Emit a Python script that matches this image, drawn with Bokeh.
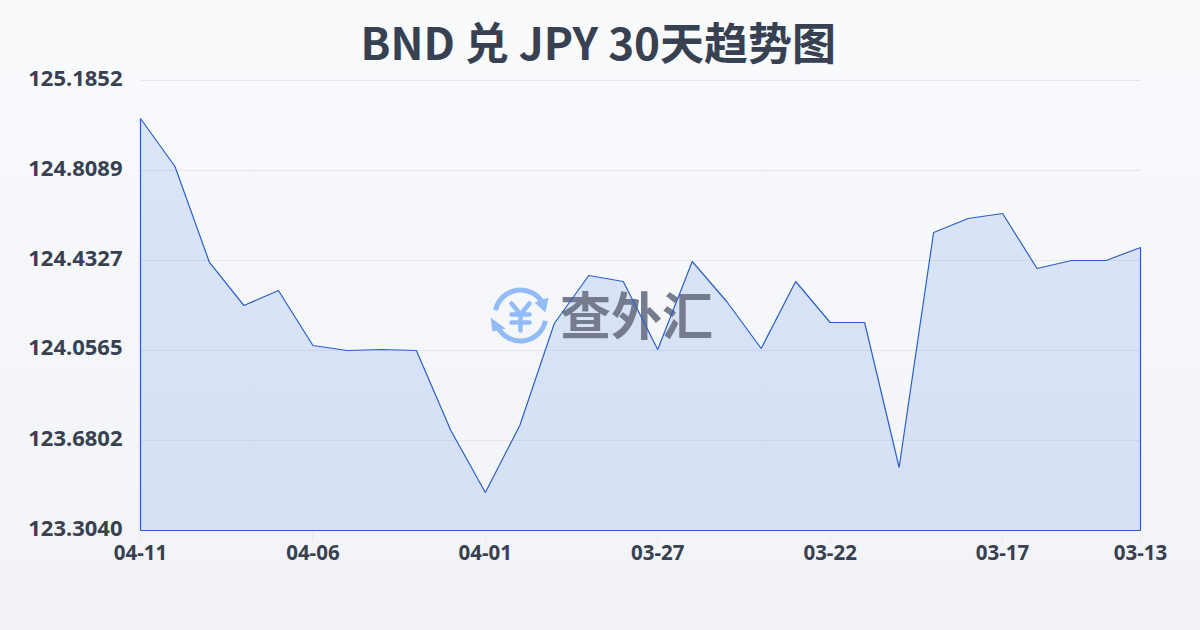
import math
from bokeh.plotting import figure
from bokeh.embed import file_html
from bokeh.resources import INLINE
from bokeh.models import Range1d, FixedTicker, NumeralTickFormatter
from bokeh.core.properties import value

dates = ["04-11","04-10","04-09","04-08","04-07","04-06","04-05","04-04","04-03","04-02",
         "04-01","03-31","03-30","03-29","03-28","03-27","03-26","03-25","03-24","03-23",
         "03-22","03-21","03-20","03-19","03-18","03-17","03-16","03-15","03-14","03-13"]
rates = [125.0263,124.8257,124.4244,124.2446,124.3073,124.0774,124.0565,124.0607,124.0565,123.7221,
         123.4629,123.7430,124.1694,124.3700,124.3449,124.0607,124.4285,124.2613,124.0648,124.3449,
         124.1735,124.1735,123.5674,124.5498,124.6083,124.6292,124.3993,124.4327,124.4327,124.4871]
y_ticks = [123.3040,123.6802,124.0565,124.4327,124.8089,125.1852]
x_tick_idx = [0,5,10,15,20,25,29]
title = "BND 兑 JPY 30天趋势图"
watermark = "查外汇"

CJK = "Noto Sans CJK SC"
LATIN = "Noto Sans"
INK = "#374151"
LINE = "#2b60c8"
ICON = "#93bbf6"
GRID = "#e5e7eb"

idx = list(range(len(rates)))
# the frame is slightly larger than the plotted area so the outline is not clipped
kx = (len(rates)-1) / 1000
ky = (y_ticks[-1] - y_ticks[0]) / 450
PAD = 3
p = figure(width=1200, height=630, output_backend="svg", toolbar_location=None,
           x_range=Range1d(-PAD*kx, len(rates)-1 + PAD*kx),
           y_range=Range1d(y_ticks[0] - PAD*ky, y_ticks[-1] + PAD*ky),
           min_border_left=140-PAD, min_border_right=60-PAD, min_border_top=80-PAD, min_border_bottom=100-PAD,
           background_fill_alpha=0, border_fill_alpha=0, outline_line_alpha=0)
# overlay coordinate system in page pixels, for the watermark only
p.extra_x_ranges["px"] = Range1d(140-PAD, 1140+PAD)
p.extra_y_ranges["px"] = Range1d(530+PAD, 80-PAD)
# y-axis labels sit a little above their gridlines
LIFT = 2.5
p.extra_y_ranges["labels"] = Range1d(y_ticks[0] - (PAD+LIFT)*ky, y_ticks[-1] + (PAD-LIFT)*ky)

p.title.text = title
p.title.align = "left"
p.title.offset = 360 - (140-PAD)
p.title.text_font = CJK
p.title.text_font_size = "44px"
p.title.text_font_style = "bold"
p.title.text_color = INK
p.title.standoff = 9

p.grid.visible = False
p.segment([idx[0]]*len(y_ticks), y_ticks, [idx[-1]]*len(y_ticks), y_ticks,
          line_color=GRID, line_width=1)

p.yaxis.y_range_name = "labels"
p.yaxis.ticker = FixedTicker(ticks=y_ticks)
p.yaxis.formatter = NumeralTickFormatter(format="0.0000")
p.yaxis.axis_line_color = None
p.yaxis.major_tick_line_color = None
p.yaxis.minor_tick_line_color = None
p.yaxis.major_label_text_font = LATIN
p.yaxis.major_label_text_font_size = "22px"
p.yaxis.major_label_text_font_style = "bold"
p.yaxis.major_label_text_color = INK
p.yaxis.major_label_standoff = 9

p.xaxis.ticker = FixedTicker(ticks=x_tick_idx)
p.xaxis.major_label_overrides = {i: dates[i] for i in x_tick_idx}
p.xaxis.axis_line_color = None
p.xaxis.major_tick_line_color = GRID
p.xaxis.major_tick_in = 0
p.xaxis.major_tick_out = 8
p.xaxis.minor_tick_line_color = None
p.xaxis.major_label_text_font = LATIN
p.xaxis.major_label_text_font_size = "20.5px"
p.xaxis.major_label_text_font_style = "bold"
p.xaxis.major_label_text_color = INK
p.xaxis.major_label_standoff = 3

base = y_ticks[0]
p.patch(idx + [idx[-1], idx[0]], rates + [base, base],
        fill_color="#2563eb", fill_alpha=0.135, line_color=None)

# watermark
wm = dict(x_range_name="px", y_range_name="px")
p.text([636], [312], text=[watermark], text_font=value(CJK), text_font_style="bold",
       text_font_size="51px", text_color="#757c8e", text_align="center", text_baseline="middle", **wm)
p.arc([520], [315], radius=25.5, radius_units="screen", start_angle=math.radians(28), end_angle=math.radians(168),
      line_color=ICON, line_width=5, **wm)
p.arc([520], [315], radius=25.5, radius_units="screen", start_angle=math.radians(208), end_angle=math.radians(348),
      line_color=ICON, line_width=5, **wm)
p.patch([545, 548, 534], [312, 297, 302], fill_color=ICON, line_color=None, **wm)
p.patch([490, 492, 505], [317, 331, 328], fill_color=ICON, line_color=None, **wm)
p.multi_line([[511, 520, 529], [511, 529], [511, 529], [520, 520]],
             [[303, 314, 303], [314, 314], [322, 322], [314, 330]],
             line_color=ICON, line_width=4.5, line_cap="round", line_join="round", **wm)

# outline drawn above the watermark
p.patch(idx + [idx[-1], idx[0]], rates + [base, base], fill_color=None, line_color=LINE, line_width=1.2)

html = file_html(p, INLINE)
style = ("<style>html{height:100%;overflow:hidden;background:linear-gradient(180deg,#f8fafc,#f1f3f6);}"
         "body{background:transparent;margin:0;}</style>")
open("out.html", "w").write(html.replace("</head>", style + "</head>"))
